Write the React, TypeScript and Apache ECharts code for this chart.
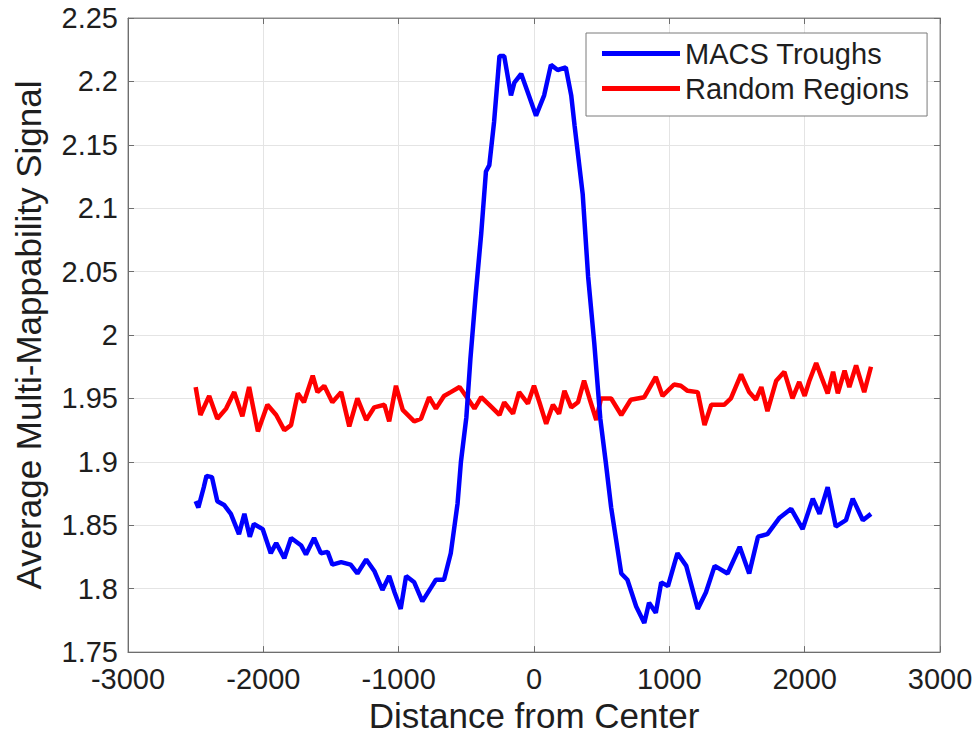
import React, { useEffect, useRef } from "react";
import * as echarts from "echarts";

const macsX = [-2500, -2480, -2440, -2420, -2380, -2340, -2290, -2240, -2180, -2140, -2100, -2070, -2005, -1945, -1905, -1845, -1795, -1720, -1685, -1625, -1575, -1525, -1490, -1425, -1355, -1305, -1240, -1180, -1120, -1070, -1030, -985, -945, -885, -825, -760, -725, -665, -615, -565, -540, -500, -470, -430, -390, -355, -330, -295, -255, -220, -170, -145, -95, -45, 15, 75, 125, 175, 235, 275, 300, 360, 400, 445, 490, 530, 570, 645, 690, 755, 815, 850, 900, 940, 990, 1060, 1125, 1210, 1270, 1335, 1430, 1520, 1590, 1655, 1725, 1815, 1900, 1985, 2060, 2110, 2170, 2230, 2305, 2355, 2430, 2490];
const macsY = [1.869, 1.864, 1.880, 1.889, 1.888, 1.869, 1.866, 1.859, 1.843, 1.859, 1.841, 1.851, 1.847, 1.828, 1.836, 1.824, 1.840, 1.834, 1.827, 1.840, 1.828, 1.829, 1.819, 1.821, 1.819, 1.812, 1.823, 1.814, 1.799, 1.810, 1.797, 1.784, 1.810, 1.805, 1.790, 1.801, 1.807, 1.807, 1.828, 1.867, 1.900, 1.935, 1.981, 2.033, 2.080, 2.129, 2.134, 2.168, 2.220, 2.220, 2.189, 2.199, 2.206, 2.191, 2.173, 2.189, 2.213, 2.209, 2.211, 2.189, 2.165, 2.111, 2.046, 1.994, 1.934, 1.900, 1.864, 1.812, 1.807, 1.786, 1.773, 1.789, 1.781, 1.805, 1.802, 1.828, 1.818, 1.784, 1.797, 1.818, 1.812, 1.833, 1.812, 1.841, 1.843, 1.856, 1.863, 1.847, 1.871, 1.859, 1.880, 1.849, 1.854, 1.871, 1.854, 1.859];

const randomX = [-2500, -2465, -2400, -2340, -2275, -2215, -2155, -2105, -2040, -1970, -1905, -1845, -1795, -1745, -1700, -1635, -1600, -1550, -1490, -1425, -1365, -1305, -1240, -1180, -1105, -1070, -1020, -970, -885, -835, -775, -725, -665, -615, -550, -490, -440, -390, -330, -255, -220, -155, -110, -45, 0, 40, 90, 140, 185, 225, 275, 325, 370, 410, 460, 495, 570, 645, 715, 815, 900, 950, 1035, 1085, 1135, 1210, 1260, 1310, 1405, 1455, 1530, 1590, 1640, 1680, 1725, 1790, 1850, 1910, 1960, 2000, 2035, 2085, 2120, 2170, 2210, 2245, 2295, 2330, 2380, 2440, 2490];
const randomY = [1.959, 1.937, 1.952, 1.934, 1.942, 1.955, 1.936, 1.959, 1.924, 1.945, 1.937, 1.925, 1.929, 1.954, 1.947, 1.968, 1.955, 1.960, 1.947, 1.955, 1.928, 1.950, 1.933, 1.943, 1.945, 1.932, 1.960, 1.941, 1.932, 1.934, 1.951, 1.942, 1.952, 1.955, 1.959, 1.950, 1.942, 1.951, 1.945, 1.937, 1.947, 1.938, 1.955, 1.946, 1.960, 1.947, 1.930, 1.945, 1.938, 1.956, 1.943, 1.947, 1.964, 1.950, 1.933, 1.950, 1.950, 1.937, 1.949, 1.951, 1.967, 1.952, 1.961, 1.960, 1.956, 1.955, 1.929, 1.945, 1.945, 1.950, 1.969, 1.955, 1.949, 1.959, 1.940, 1.964, 1.971, 1.950, 1.963, 1.952, 1.964, 1.978, 1.968, 1.954, 1.971, 1.954, 1.972, 1.959, 1.976, 1.955, 1.975];

const seriesNames = ["MACS Troughs", "Random Regions"];
const xAxisTitle = "Distance from Center";
const yAxisTitle = "Average Multi-Mappability Signal";

const FONT = "'Liberation Sans', Arial, sans-serif";
const TXT = "#1e1e1e";

export default function App() {
  const ref = useRef<HTMLDivElement>(null);
  useEffect(() => {
    if (!ref.current) return;
    const chart = echarts.init(ref.current, null, { renderer: "svg" });
    const pair = (xs: number[], ys: number[]) => xs.map((x, i) => [x, ys[i]]);
    const tickStyle = { show: true, inside: true, length: 6, lineStyle: { color: "#6e6e6e" } };
    chart.setOption({
      animation: false,
      backgroundColor: "#ffffff",
      textStyle: { fontFamily: FONT },
      grid: { left: 128, right: 39, top: 18, bottom: 78, show: true, borderColor: "#8a8a8a", borderWidth: 1, backgroundColor: "transparent" },
      legend: {
        orient: "vertical",
        left: 586,
        top: 33,
        padding: [6, 18, 13, 16],
        icon: "rect",
        itemWidth: 78,
        itemHeight: 5,
        itemGap: 6,
        backgroundColor: "#ffffff",
        borderColor: "#7a7a7a",
        borderWidth: 1,
        textStyle: { fontSize: 29, color: TXT, fontFamily: FONT },
        data: seriesNames,
      },
      xAxis: [
        {
          type: "value",
          min: -3000,
          max: 3000,
          interval: 1000,
          name: xAxisTitle,
          nameLocation: "middle",
          nameGap: 43,
          nameTextStyle: { fontSize: 35, color: TXT, fontFamily: FONT },
          axisLine: { show: true, onZero: false, lineStyle: { color: "#6e6e6e" } },
          axisTick: tickStyle,
          axisLabel: { fontSize: 29, color: TXT, margin: 12, fontFamily: FONT, formatter: (v: number) => String(v) },
          splitLine: { show: true, lineStyle: { color: "#e4e4e4", width: 1 } },
        },
        {
          type: "value",
          position: "top",
          min: -3000,
          max: 3000,
          interval: 1000,
          axisLine: { show: true, onZero: false, lineStyle: { color: "#8a8a8a" } },
          axisTick: tickStyle,
          axisLabel: { show: false },
          splitLine: { show: false },
        },
      ],
      yAxis: [
        {
          type: "value",
          min: 1.75,
          max: 2.25,
          interval: 0.05,
          name: yAxisTitle,
          nameLocation: "middle",
          nameGap: 82,
          nameTextStyle: { fontSize: 35, color: TXT, fontFamily: FONT },
          axisLine: { show: true, onZero: false, lineStyle: { color: "#6e6e6e" } },
          axisTick: tickStyle,
          axisLabel: { fontSize: 29, color: TXT, margin: 10, fontFamily: FONT },
          splitLine: { show: true, lineStyle: { color: "#e4e4e4", width: 1 } },
        },
        {
          type: "value",
          position: "right",
          min: 1.75,
          max: 2.25,
          interval: 0.05,
          axisLine: { show: true, onZero: false, lineStyle: { color: "#8a8a8a" } },
          axisTick: tickStyle,
          axisLabel: { show: false },
          splitLine: { show: false },
        },
      ],
      series: [
        {
          name: seriesNames[0],
          type: "line",
          data: pair(macsX, macsY),
          symbol: "none",
          lineStyle: { color: "#0000ff", width: 4.5 },
          itemStyle: { color: "#0000ff" },
          z: 3,
        },
        {
          name: seriesNames[1],
          type: "line",
          data: pair(randomX, randomY),
          symbol: "none",
          lineStyle: { color: "#ff0000", width: 4.5 },
          itemStyle: { color: "#ff0000" },
          z: 2,
        },
      ],
    });
    return () => chart.dispose();
  }, []);
  return <div ref={ref} style={{ position: "absolute", left: 0, top: 0, width: 979, height: 738 }} />;
}
